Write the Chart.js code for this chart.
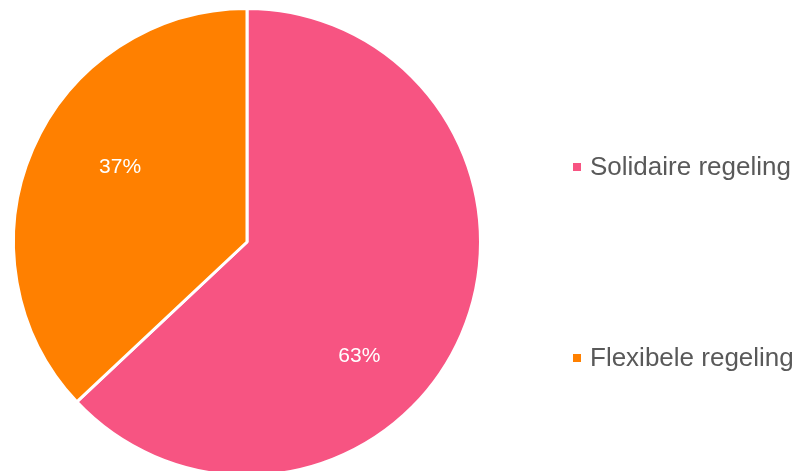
<!DOCTYPE html>
<html>
<head>
<meta charset="utf-8">
<script src="https://cdn.jsdelivr.net/npm/chart.js@4"></script>
<style>
    html, body { margin: 0; padding: 0; background: #fff; overflow: hidden; }
    #wrap { position: absolute; left: 0; top: 0; width: 802px; height: 486px; }
</style>
</head>
<body>
<div id="wrap"><canvas id="pieChart" width="802" height="486"></canvas></div>
<script>
const categories = ['Solidaire regeling', 'Flexibele regeling'];
const shares = [63, 37];
const sliceColors = ['#F75482', '#FF8000'];

// Excel puts the percentages a bit off the mid-angle
const labelAngleShift = [22, 7];
const labelRadius = [0.685, 0.63];

const pieLabels = {
    id: 'pieLabels',
    afterDatasetsDraw(chart) {
        const ctx = chart.ctx;
        const meta = chart.getDatasetMeta(0);
        ctx.save();
        ctx.font = '21px "Liberation Sans", Arial, sans-serif';
        ctx.fillStyle = '#ffffff';
        ctx.textAlign = 'center';
        ctx.textBaseline = 'middle';
        meta.data.forEach((arc, i) => {
            const p = arc.getProps(['x', 'y', 'startAngle', 'endAngle', 'outerRadius'], true);
            const a = (p.startAngle + p.endAngle) / 2 + labelAngleShift[i] * Math.PI / 180;
            const r = p.outerRadius * labelRadius[i];
            ctx.fillText(shares[i] + '%', p.x + Math.cos(a) * r, p.y + Math.sin(a) * r);
        });
        ctx.restore();
    }
};

const sideLegend = {
    id: 'sideLegend',
    afterDraw(chart) {
        const ctx = chart.ctx;
        const rowsY = [167, 358];
        ctx.save();
        ctx.font = '26px "Liberation Sans", Arial, sans-serif';
        ctx.textBaseline = 'middle';
        ctx.textAlign = 'left';
        categories.forEach((name, i) => {
            ctx.fillStyle = sliceColors[i];
            ctx.fillRect(573, rowsY[i] - 4, 8, 8);
            ctx.fillStyle = '#595959';
            ctx.fillText(name, 590, rowsY[i] + 1);
        });
        ctx.restore();
    }
};

new Chart(document.getElementById('pieChart').getContext('2d'), {
    type: 'pie',
    data: {
        labels: categories,
        datasets: [{
            data: shares,
            backgroundColor: sliceColors,
            borderColor: '#ffffff',
            borderWidth: 3
        }]
    },
    options: {
        responsive: false,
        animation: false,
        events: [],
        plugins: {
            legend: { display: false },
            tooltip: { enabled: false }
        },
        layout: {
            padding: { top: 7, bottom: 9, left: 12, right: 320 }
        }
    },
    plugins: [pieLabels, sideLegend]
});
</script>
</body>
</html>
